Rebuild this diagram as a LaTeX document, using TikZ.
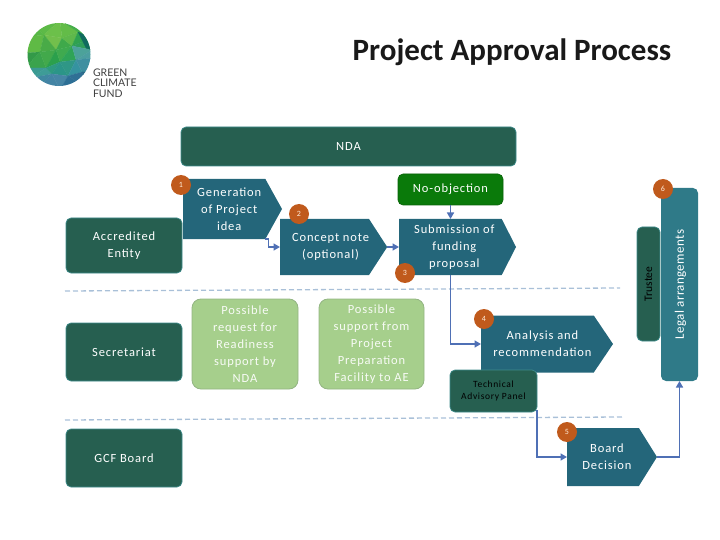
\documentclass[tikz,border=0pt]{standalone}
\usepackage{fontspec}
\setmainfont{Carlito}
\newfontfamily\spaced[LetterSpace=7]{Carlito}
\newfontfamily\lightspaced[LetterSpace=3]{Carlito}
\newfontfamily\logofont{Lato}
\usetikzlibrary{shapes.symbols,arrows.meta}
\definecolor{dkgreen}{HTML}{265F50}
\definecolor{tealedge}{HTML}{3E8C8C}
\definecolor{plateblue}{HTML}{24667A}
\definecolor{legalblue}{HTML}{2F7A88}
\definecolor{lightgreen}{HTML}{A6CF8C}
\definecolor{lightedge}{HTML}{93B583}
\definecolor{okgreen}{HTML}{0A7A0A}
\definecolor{badgeor}{HTML}{C05A1C}
\definecolor{arrowblue}{HTML}{4F70B5}
\definecolor{dashblue}{HTML}{A9C0D8}
\newcommand\facet[2]{\definecolor{facetcol}{HTML}{#1}\fill[facetcol,draw=facetcol,line width=.2pt] #2 -- cycle;}
\newcommand\padA{\hspace*{10pt}}
\newcommand\padB{\hspace*{8pt}}
\newcommand\padC{\hspace*{12pt}}
\tikzset{
  x=1pt,y=-1pt,
  every node/.style={font=\spaced\fontsize{12.5}{17}\selectfont,text=white,align=center,inner sep=0pt,outer sep=0pt},
  rolebox/.style={rectangle,rounded corners=5pt,fill=dkgreen,draw=tealedge,line width=.7pt},
  platebox/.style={signal,signal to=east,fill=plateblue,draw=none,anchor=west},
  softbox/.style={rectangle,rounded corners=9pt,fill=lightgreen,draw=lightedge,line width=.8pt,text=white!92!lightgreen},
  badge/.style={circle,fill=badgeor,minimum size=20pt,font=\spaced\fontsize{8}{8}\selectfont,text=white!85!orange},
  flow/.style={draw=arrowblue,line width=1.5pt,-{Triangle[length=6.5pt,width=7pt]}},
  lane/.style={draw=dashblue,line width=1.3pt,dash pattern=on 5pt off 3pt},
}
\begin{document}
\begin{tikzpicture}
\useasboundingbox (0,0) rectangle (720,540);
% logo globe
\begin{scope}
\clip (59,54.5) circle (31.5);
\coordinate (A0) at (30,20); \coordinate (A1) at (60,20); \coordinate (A2) at (92,20);
\coordinate (B0) at (25,37); \coordinate (B1) at (44,35); \coordinate (B2) at (62,38); \coordinate (B3) at (78,32); \coordinate (B4) at (92,38);
\coordinate (C0) at (25,53); \coordinate (C1) at (40,52); \coordinate (C2) at (56,50); \coordinate (C3) at (72,46); \coordinate (C4) at (92,50);
\coordinate (D0) at (25,68); \coordinate (D1) at (46,68); \coordinate (D2) at (60,62); \coordinate (D3) at (76,60); \coordinate (D4) at (92,58);
\coordinate (E0) at (30,78); \coordinate (E1) at (52,74); \coordinate (E2) at (68,76); \coordinate (E3) at (82,72); \coordinate (E4) at (92,72);
\coordinate (F0) at (35,90); \coordinate (F1) at (60,90); \coordinate (F2) at (90,90);
\facet{5DBA47}{(A0) -- (A1) -- (B1)}
\facet{6CC04A}{(A1) -- (B1) -- (B2)}
\facet{63BC48}{(A1) -- (B2) -- (B3)}
\facet{45AE4A}{(A1) -- (A2) -- (B4) -- (B3)}
\facet{58B846}{(A0) -- (B0) -- (B1)}
\facet{5FBA45}{(B0) -- (B1) -- (C1) -- (C0)}
\facet{72BF4C}{(B1) -- (B2) -- (C2)}
\facet{49AB47}{(B1) -- (C1) -- (C2)}
\facet{3FA94A}{(B2) -- (C2) -- (C3)}
\facet{5FB84B}{(B2) -- (B3) -- (C3)}
\facet{2FA24F}{(B3) -- (B4) -- (C3)}
\facet{2E9E5A}{(B4) -- (C3) -- (C4)}
\facet{339A48}{(C0) -- (C1) -- (D0)}
\facet{3AA34C}{(C1) -- (D0) -- (D1)}
\facet{42A94B}{(C1) -- (C2) -- (D1)}
\facet{2BA04C}{(C2) -- (D1) -- (D2)}
\facet{3FAA4F}{(C2) -- (C3) -- (D2)}
\facet{2FA457}{(C3) -- (D2) -- (D3)}
\facet{4CA29A}{(C3) -- (C4) -- (D3)}
\facet{4C9EA0}{(C4) -- (D3) -- (D4)}
\facet{3B9A92}{(D0) -- (D1) -- (E0)}
\facet{3E9C97}{(D1) -- (E0) -- (E1)}
\facet{2E9A80}{(D1) -- (D2) -- (E1)}
\facet{2B9588}{(D2) -- (E1) -- (E2)}
\facet{2F9786}{(D2) -- (D3) -- (E2)}
\facet{3593A0}{(D3) -- (E2) -- (E3)}
\facet{3E8FA0}{(D3) -- (D4) -- (E4) -- (E3)}
\facet{3F88A0}{(E0) -- (E1) -- (F0)}
\facet{4384A4}{(E1) -- (F0) -- (F1)}
\facet{4685A5}{(E1) -- (E2) -- (F1)}
\facet{2D6F95}{(E2) -- (F1) -- (F2)}
\facet{2F7095}{(E2) -- (E3) -- (F2)}
\facet{286A88}{(E3) -- (E4) -- (F2)}
\facet{106A5E}{(B3) -- (B4) -- (C4) -- (86,48)}
\end{scope}
\node[anchor=west,font=\logofont\fontsize{10.5}{10.7}\selectfont,text=black!75,align=left] (logotext) at (93,83) {GREEN\\CLIMATE\\FUND};
\node[anchor=center,font=\bfseries\fontsize{31}{34}\selectfont,text=black!90] (title) at (512,52) {Project Approval Process};

% swim-lane separators
\coordinate (l1a) at (65,291); \coordinate (l1b) at (620,288);
\coordinate (l2a) at (65,420); \coordinate (l2b) at (622,417);
\draw[lane] (l1a) -- (l1b);
\draw[lane] (l2a) -- (l2b);

% actors
\node[rolebox,minimum width=335pt,minimum height=39pt] (nda) at (348.5,146.5) {\raisebox{-1pt}{NDA}};
\node[rolebox,minimum width=116pt,minimum height=55pt] (ae) at (124,245.5) {\raisebox{-1pt}{Accredited}\\\raisebox{-1pt}{Entity}};
\node[rolebox,minimum width=116pt,minimum height=58pt] (sec) at (124,352) {Secretariat};
\node[rolebox,minimum width=116pt,minimum height=58pt] (board) at (124,458) {GCF Board};

\node[platebox,signal pointer angle=122,minimum width=99pt,minimum height=60pt] (gen) at (183,209) {\padA Generation\\\padA of Project\\\padA idea};
\node[platebox,signal pointer angle=114,minimum width=104pt,minimum height=56pt] (cn) at (280,247) {\padC Concept note\\\padC (optional)};
\node[platebox,signal pointer angle=126,minimum width=117pt,minimum height=56pt] (sub) at (399,247) {\padB Submission of\\\padB funding\\\padB proposal};
\node[platebox,signal pointer angle=112,minimum width=132pt,minimum height=57pt] (ana) at (481,344) {\padA Analysis and\\\padA recommendation};
\node[platebox,signal pointer angle=116,minimum width=90pt,minimum height=58pt] (dec) at (567,457) {\padB Board\\\padB Decision};

\node[softbox,minimum width=106pt,minimum height=90pt] (ready) at (245,344) {Possible\\request for\\Readiness\\support by\\NDA};
\node[softbox,minimum width=105pt,minimum height=90pt] (ppf) at (371.5,344) {Possible\\support from\\Project\\Preparation\\Facility to AE};

\node[rectangle,rounded corners=5pt,fill=okgreen,draw=okgreen!80!black,line width=.6pt,minimum width=105pt,minimum height=31pt] (noobj) at (450.5,189.5) {\raisebox{-1.5pt}{No-objection}};

\node[rolebox,minimum width=87pt,minimum height=42pt,text=black,font=\spaced\fontsize{9.5}{12}\selectfont] (tap) at (493.5,391) {Technical\\Advisory Panel};
\node[rolebox,minimum width=23pt,minimum height=114pt,text=black] (trustee) at (648.5,284) {};
\node[rotate=90,text=black,font=\fontsize{11.5}{12}\selectfont] (trustlab) at (trustee.center) {Trustee};
\node[rectangle,rounded corners=5pt,fill=legalblue,minimum width=37pt,minimum height=193pt] (legal) at (679.5,284.5) {};
\node[rotate=90,font=\lightspaced\fontsize{13}{15}\selectfont] (legallab) at ([xshift=1pt]legal.center) {Legal arrangements};

% connectors
\draw[flow] (gen.south east) -- ++(3,0) |- (cn.west);
\draw[flow] (cn.east) -- (sub.west);
\draw[flow] (noobj.south) -- (noobj.south |- sub.north);
\draw[flow] (noobj.south |- sub.south) |- (ana.west);
\draw[flow] (tap.south east) ++(0,-2) |- (dec.west);
\draw[flow] (dec.east) -| (legal.south);

% step badges
\node[badge] (b1) at (181,185) {1};
\node[badge] (b2) at (299,214) {2};
\node[badge] (b3) at (405,273) {3};
\node[badge] (b4) at (484,319) {4};
\node[badge] (b5) at (567,432) {5};
\node[badge] (b6) at (663,189) {6};
\end{tikzpicture}
\end{document}
